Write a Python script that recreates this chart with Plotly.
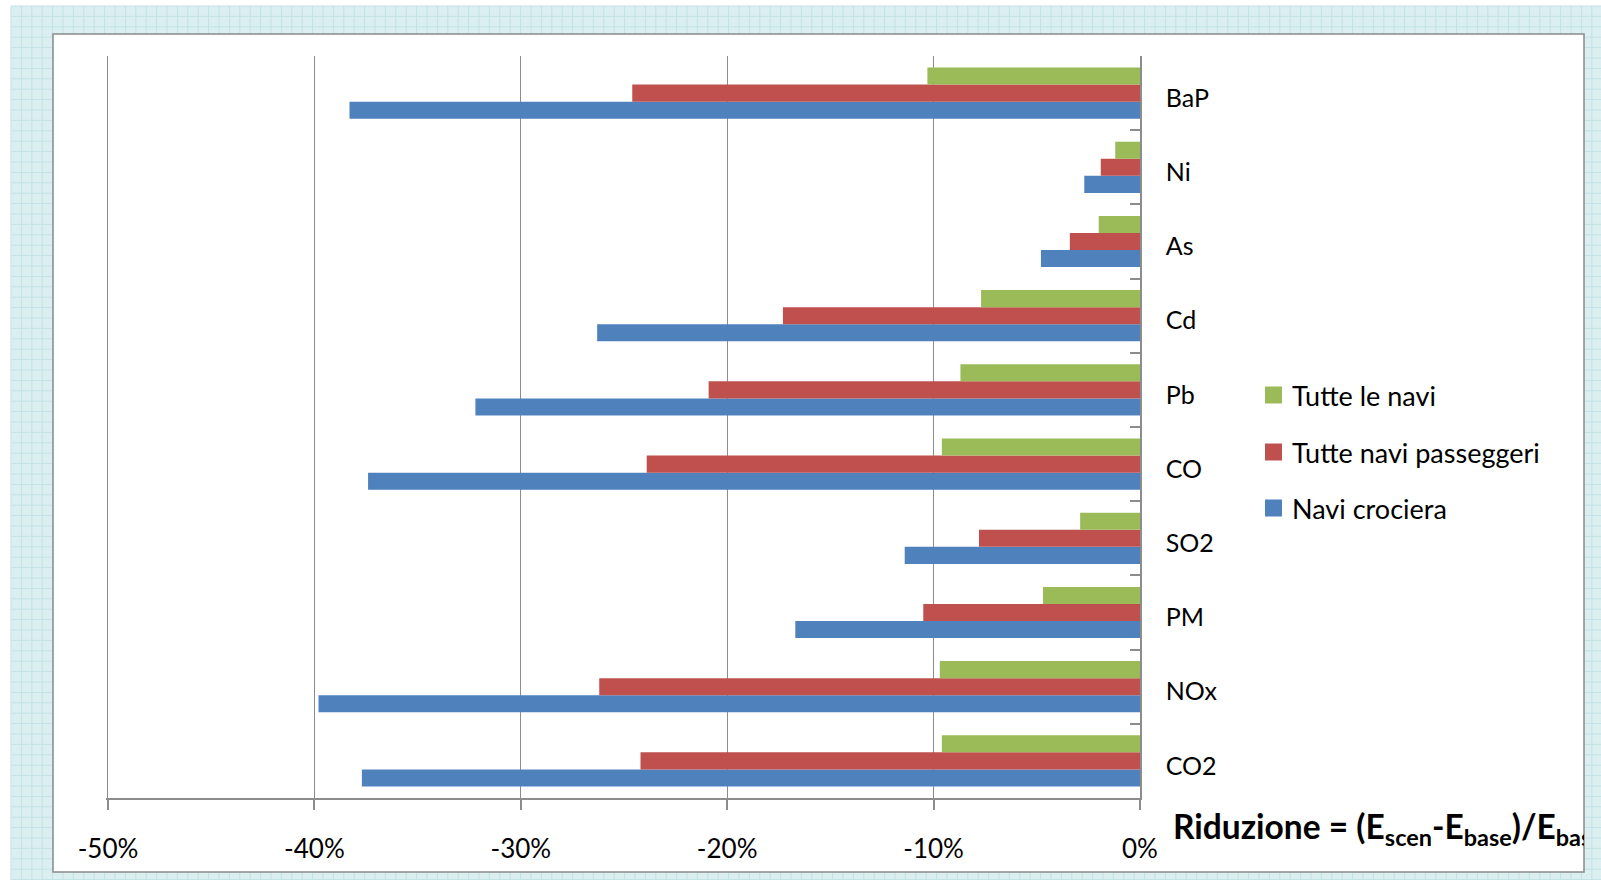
import plotly.graph_objects as go

W, H = 1601, 880

# Emission reductions per pollutant (percent, negative = reduction)
categories = ["CO2", "NOx", "PM", "SO2", "CO", "Pb", "Cd", "As", "Ni", "BaP"]
navi_crociera = [-37.7, -39.8, -16.7, -11.4, -37.4, -32.2, -26.3, -4.8, -2.7, -38.3]
tutte_passeggeri = [-24.2, -26.2, -10.5, -7.8, -23.9, -20.9, -17.3, -3.4, -1.9, -24.6]
tutte_navi = [-9.6, -9.7, -4.7, -2.9, -9.6, -8.7, -7.7, -2.0, -1.2, -10.3]

series_names = ["Navi crociera", "Tutte navi passeggeri", "Tutte le navi"]
series_values = [navi_crociera, tutte_passeggeri, tutte_navi]
series_colors = ["#4F81BD", "#C0504D", "#9BBB59"]

x_tickvals = [-50, -40, -30, -20, -10, 0]
x_ticktext = ["-50%", "-40%", "-30%", "-20%", "-10%", "0%"]

FONT = "Lato"
GRAY = "#8c8c8c"


def px(x):
    return x / W


def py(y):
    return 1 - y / H


fig = go.Figure()

for name, vals, col in zip(series_names, series_values, series_colors):
    fig.add_trace(go.Bar(
        y=categories, x=vals, name=name, orientation="h",
        marker=dict(color=col, line=dict(width=0)),
        showlegend=False, hoverinfo="x+y+name",
    ))

# Formula caption, clipped to the white panel
PANEL = (53, 34, 1584, 872)
fig.add_trace(go.Scatter(
    x=[(1173 - PANEL[0]) / (PANEL[2] - PANEL[0])],
    y=[(PANEL[3] - 831) / (PANEL[3] - PANEL[1])],
    mode="text",
    text=["<b>Riduzione = (E<sub>scen</sub>-E<sub>base</sub>)/E<sub>base</sub></b>"],
    textposition="middle right",
    textfont=dict(family=FONT, size=33.5, color="#000"),
    cliponaxis=True, showlegend=False, hoverinfo="skip",
    xaxis="x2", yaxis="y2",
))

# Graph-paper background
shapes = [
    dict(type="rect", xref="paper", yref="paper", x0=px(11), x1=1, y0=0, y1=py(6),
         fillcolor="#dbeff1", line=dict(width=0), layer="below"),
]
step = 10.4
path = []
x = 11.0
while x <= W:
    path.append(f"M{px(x):.5f},{py(6):.5f}L{px(x):.5f},0")
    x += step
y = 6.0
while y <= H:
    path.append(f"M{px(11):.5f},{py(y):.5f}L1,{py(y):.5f}")
    y += step
shapes.append(dict(type="path", xref="paper", yref="paper", path="".join(path),
                   line=dict(color="#c2e2e5", width=1), layer="below"))
# White chart panel
shapes.append(dict(type="rect", xref="paper", yref="paper",
                   x0=px(PANEL[0]), x1=px(PANEL[2]), y0=py(PANEL[3]), y1=py(PANEL[1]),
                   fillcolor="white", line=dict(color="#8a8a8a", width=1.5), layer="below"))

# Legend (top to bottom: green, red, blue)
legend_y = [395, 452, 508]
annotations = []
for i, idx in enumerate([2, 1, 0]):
    yc = legend_y[i]
    shapes.append(dict(type="rect", xref="paper", yref="paper",
                       x0=px(1265), x1=px(1282), y0=py(yc + 8.5), y1=py(yc - 8.5),
                       fillcolor=series_colors[idx], line=dict(width=0), layer="above"))
    annotations.append(dict(xref="paper", yref="paper", x=px(1290), y=py(yc),
                            xanchor="left", yanchor="middle", showarrow=False,
                            text=series_names[idx],
                            font=dict(family=FONT, size=27, color="#000")))

# x axis: -50%..0% spanning pixels 108..1140, with a little slack on the left
x_px0, x_px1 = 108.0, 1140.0
pad = 0.1
px_per_unit = (x_px1 - x_px0) / 50.0

fig.update_layout(
    template="none",
    width=W, height=H,
    margin=dict(l=0, r=0, t=0, b=0, pad=0, autoexpand=False),
    paper_bgcolor="white", plot_bgcolor="rgba(0,0,0,0)",
    barmode="group", bargap=0.31, bargroupgap=0,
    shapes=shapes, annotations=annotations,
    showlegend=False,
    font=dict(family=FONT, color="#000"),
    xaxis=dict(
        domain=[px(x_px0 - pad * px_per_unit), px(x_px1)], range=[-50 - pad, 0],
        tickvals=x_tickvals, ticktext=x_ticktext,
        tickfont=dict(family=FONT, size=26, color="#000"),
        showgrid=True, gridcolor=GRAY, gridwidth=1, zeroline=False,
        showline=True, linecolor=GRAY, linewidth=1.5,
        ticks="outside", ticklen=10, tickcolor=GRAY, tickwidth=1.5,
        ticklabelstandoff=17, fixedrange=True, automargin=False,
    ),
    yaxis=dict(
        domain=[py(798), py(56)], side="right",
        categoryorder="array", categoryarray=categories,
        tickfont=dict(family=FONT, size=25, color="#000"),
        showgrid=False, zeroline=False,
        showline=True, linecolor=GRAY, linewidth=1.5,
        ticks="inside", tickson="boundaries", ticklen=10, tickcolor=GRAY, tickwidth=1.5,
        ticklabelstandoff=19, ticklabelshift=5, fixedrange=True, automargin=False,
    ),
    xaxis2=dict(domain=[px(PANEL[0]), px(PANEL[2])], range=[0, 1], visible=False,
                anchor="y2", fixedrange=True, automargin=False),
    yaxis2=dict(domain=[py(PANEL[3]), py(PANEL[1])], range=[0, 1], visible=False,
                anchor="x2", fixedrange=True, automargin=False),
)

fig.write_html("out.html")
